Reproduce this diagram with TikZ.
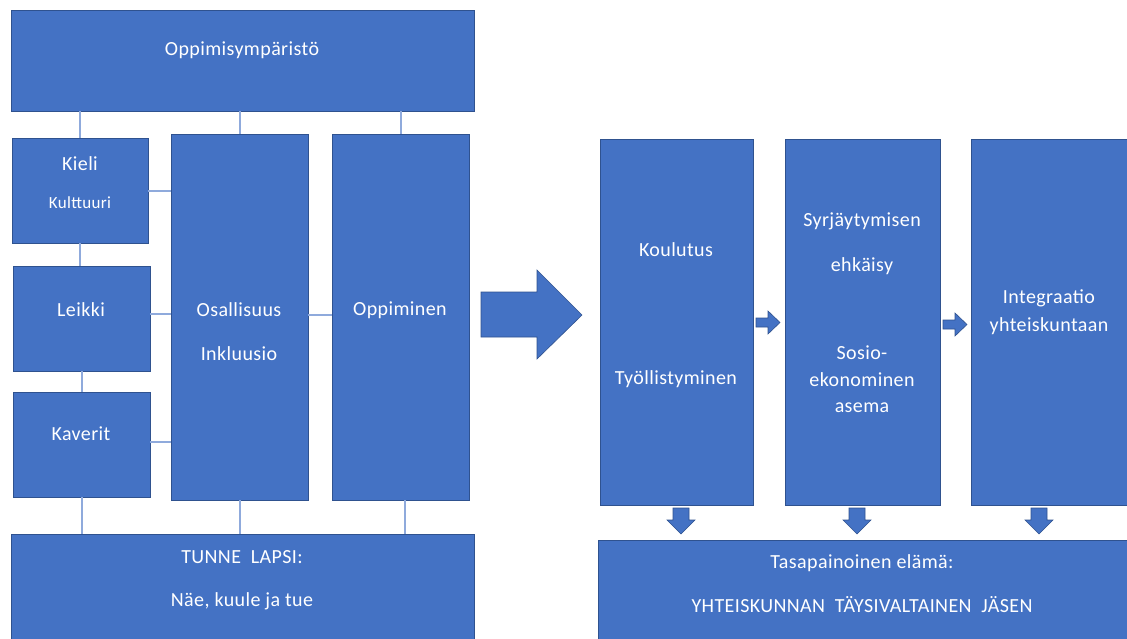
\documentclass[tikz,border=0pt]{standalone}
\usepackage{fontspec}
\setmainfont[LetterSpace=2]{Carlito}
\usetikzlibrary{calc}
\definecolor{boxblue}{HTML}{4472C4}
\definecolor{boxedge}{HTML}{2F528F}
\definecolor{connblue}{HTML}{8FAADC}
\tikzset{
  blk/.style={rectangle, fill=boxblue, draw=boxedge, line width=0.8pt, inner sep=0pt},
  lbl/.style={text=white, font=\fontsize{20}{24}\selectfont, inner sep=0pt, anchor=center},
  lblsmall/.style={text=white, font=\fontsize{17}{20}\selectfont, inner sep=0pt, anchor=center},
  conn/.style={draw=connblue, line width=2pt},
  barrow/.style={fill=boxblue, draw=boxedge, line width=0.6pt, line join=miter}
}
\newcommand{\blkbox}[5]{% name, x1, y1, x2, y2
  \node[blk, minimum width={#4-#2}, minimum height={#5-#3}] (#1) at ({(#2+#4)/2},{(#3+#5)/2}) {};}
\begin{document}
\begin{tikzpicture}[x=1pt,y=-1pt]
\useasboundingbox (0,0) rectangle (1127,638);
% boxes
\blkbox{top}{11}{10}{474}{111}
\blkbox{kieli}{12}{138}{148}{243}
\blkbox{leikki}{13}{266}{150}{371}
\blkbox{kaverit}{13}{392}{150}{497}
\blkbox{osall}{171}{134}{308}{500}
\blkbox{opp}{332}{134}{469}{500}
\blkbox{tunne}{11}{534}{474}{645}
\blkbox{koul}{600}{139}{753}{505}
\blkbox{syr}{785}{139}{940}{505}
\blkbox{integ}{971}{139}{1132}{505}
\blkbox{tasa}{598}{540}{1132}{645}
% connectors
\begin{scope}[on background layer/.style={}]
\draw[conn] (top.south -| kieli.north) -- (kieli.north);
\draw[conn] (top.south -| osall.north) -- (osall.north);
\draw[conn] (top.south -| opp.north) -- (opp.north);
\draw[conn] (kieli.south) -- (kieli.south |- leikki.north);
\draw[conn] (leikki.south) -- (leikki.south |- kaverit.north);
\draw[conn] (kaverit.south) -- (kaverit.south |- tunne.north);
\draw[conn] (osall.south) -- (osall.south |- tunne.north);
\draw[conn] ($(opp.south)+(4,0)$) -- ($(opp.south |- tunne.north)+(4,0)$);
\draw[conn] (kieli.east) -- (kieli.east -| osall.west);
\draw[conn] ($(leikki.east)+(0,-5)$) -- ($(leikki.east -| osall.west)+(0,-5)$);
\draw[conn] ($(kaverit.east)+(0,-3)$) -- ($(kaverit.east -| osall.west)+(0,-3)$);
\draw[conn] ($(osall.east |- leikki.east)+(0,-4)$) -- ($(opp.west |- leikki.east)+(0,-4)$);
\end{scope}
% texts
\node[lbl] (t1) at (242,50) {Oppimisympäristö};
\node[lbl] (t2) at (80,164) {Kieli};
\node[lblsmall] (t3) at (80,203) {Kulttuuri};
\node[lbl] (t4) at (81,310) {Leikki};
\node[lbl] (t5) at (81,434) {Kaverit};
\node[lbl] (t6) at (239,310) {Osallisuus};
\node[lbl] (t7) at (239,354) {Inkluusio};
\node[lbl] (t8) at (400,310) {Oppiminen};
\node[lbl] (t9) at (242,557) {TUNNE\ \ LAPSI:};
\node[lbl] (t10) at (242,601) {Näe, kuule ja tue};
\node[lbl] (t11) at (676,250) {Koulutus};
\node[lbl] (t12) at (676,379) {Työllistyminen};
\node[lbl] (t13) at (862,221) {Syrjäytymisen};
\node[lbl] (t14) at (862,266) {ehkäisy};
\node[lbl] (t15) at (862,353) {Sosio-};
\node[lbl] (t16) at (862,380) {ekonominen};
\node[lbl] (t17) at (862,408) {asema};
\node[lbl] (t18) at (1049,298) {Integraatio};
\node[lbl] (t19) at (1049,326) {yhteiskuntaan};
\node[lbl] (t20) at (862,563) {Tasapainoinen elämä:};
\node[lbl] (t21) at (862,605) {YHTEISKUNNAN\ \ TÄYSIVALTAINEN\ \ JÄSEN};
% block arrows
\draw[barrow] (481,292) -- (537,292) -- (537,270) -- (582,315) -- (537,359) -- (537,337) -- (481,337) -- cycle;
\draw[barrow] (756,318) -- (768,318) -- (768,311) -- (780,322.5) -- (768,334) -- (768,327) -- (756,327) -- cycle;
\draw[barrow] (943,320) -- (955,320) -- (955,313) -- (967,324.5) -- (955,336) -- (955,329) -- (943,329) -- cycle;
\foreach \cx in {681,857,1039}{
  \draw[barrow] (\cx-8,508) -- (\cx+8,508) -- (\cx+8,520) -- (\cx+14,520) -- (\cx,534) -- (\cx-14,520) -- (\cx-8,520) -- cycle;
}
\end{tikzpicture}
\end{document}
